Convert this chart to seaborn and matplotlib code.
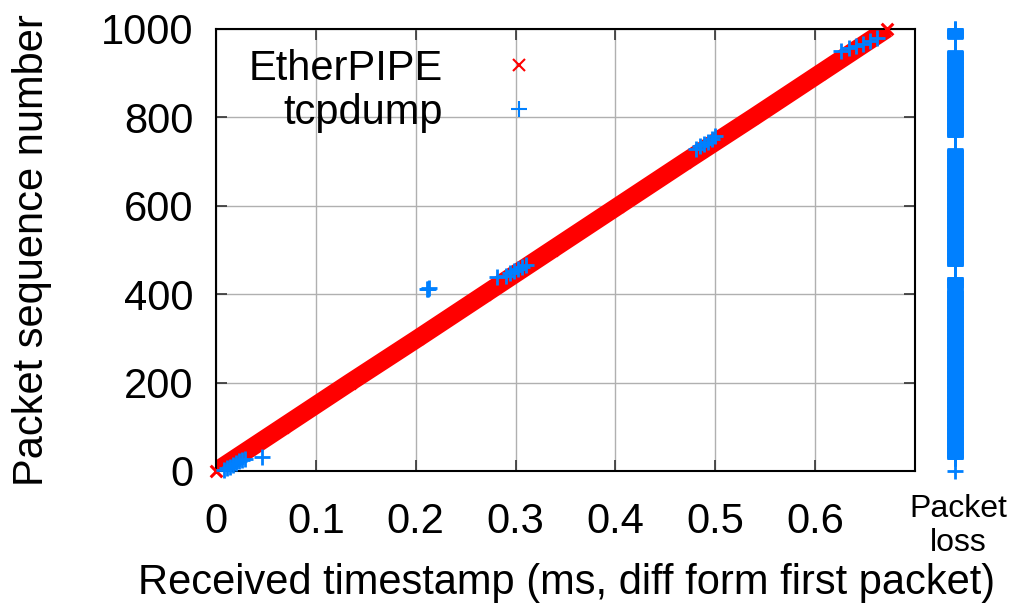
import numpy as np
import matplotlib
matplotlib.use("Agg")
import matplotlib.pyplot as plt
from matplotlib.lines import Line2D
import seaborn as sns

# EtherPIPE: received timestamp (ms) vs packet sequence number
ether_ts = [0.0, 0.067, 0.134, 0.202, 0.269, 0.336, 0.403, 0.470, 0.538, 0.605, 0.672]
ether_seq = [0, 100, 200, 300, 400, 500, 600, 700, 800, 900, 1000]

# tcpdump: the packets it did capture
tcp_ts = [0.008, 0.011, 0.014, 0.017, 0.020, 0.023, 0.026, 0.029, 0.046,
          0.211, 0.212, 0.213,
          0.281, 0.290, 0.294, 0.298, 0.302, 0.306, 0.310,
          0.481, 0.485, 0.489, 0.493, 0.497, 0.500,
          0.626, 0.634, 0.641, 0.648, 0.655, 0.662]
tcp_seq = [2, 6, 10, 14, 18, 22, 26, 28, 32,
           411, 412, 413,
           438, 442, 447, 452, 457, 461, 465,
           729, 735, 740, 745, 751, 757,
           951, 957, 962, 967, 973, 979]

# packets missed by tcpdump, as (first, last) sequence ranges
lost_first = [0, 29, 414, 466, 758, 980]
lost_last = [0, 410, 437, 728, 950, 1000]

red = "#ff0000"
blue = "#0080ff"

sns.set_style("ticks")
plt.rcParams["font.family"] = ["Liberation Sans", "DejaVu Sans"]
plt.rcParams["font.size"] = 30
plt.rcParams["text.color"] = "black"
plt.rcParams["axes.labelcolor"] = "black"
plt.rcParams["xtick.color"] = "black"
plt.rcParams["ytick.color"] = "black"

fig = plt.figure(figsize=(10.14, 6.13), dpi=100)
ax = fig.add_axes([216 / 1014, 1 - 471 / 613, 699 / 1014, 442 / 613])

# red band: thick line through the EtherPIPE points plus x markers
sns.lineplot(x=ether_ts, y=ether_seq, ax=ax, color=red, linewidth=13,
             solid_capstyle="butt", sort=False, legend=False)
sns.scatterplot(x=ether_ts, y=ether_seq, ax=ax, marker="x", color=red,
                s=70, linewidth=2.2, clip_on=False, zorder=4)

sns.scatterplot(x=tcp_ts, y=tcp_seq, ax=ax, marker="+", color=blue,
                s=140, linewidth=2, clip_on=False, zorder=5)

ax.set_xlim(0, 0.7)
ax.set_ylim(0, 1000)
ax.set_xticks([0, 0.1, 0.2, 0.3, 0.4, 0.5, 0.6])
ax.set_xticklabels(["0", "0.1", "0.2", "0.3", "0.4", "0.5", "0.6"])
ax.set_yticks([0, 200, 400, 600, 800, 1000])
ax.grid(True, color="#b0b0b0", linewidth=1)
ax.set_axisbelow(True)
ax.tick_params(direction="in", length=8, width=1.2, top=True, right=True,
               labelsize=30, color="#333333", labelcolor="black")
ax.tick_params(axis="x", pad=22)
ax.tick_params(axis="y", pad=16)
for s in ax.spines.values():
    s.set_linewidth(1.5)
    s.set_color("black")

ax.set_xlabel("Received timestamp (ms, diff form first packet)", fontsize=30)
ax.xaxis.label.set_va("center")
ax.xaxis.set_label_coords(0.502, -0.253)
ax.set_ylabel("Packet sequence number", fontsize=30)
ax.yaxis.label.set_va("center")
ax.yaxis.set_label_coords(-0.263, 0.5)

handles = [Line2D([], [], linestyle="none", marker="x", color=red, markersize=8, mew=1.5),
           Line2D([], [], linestyle="none", marker="+", color=blue, markersize=12, mew=1.5)]
ax.legend(handles, ["EtherPIPE", "tcpdump"], loc="upper right",
          bbox_to_anchor=(0.462, 0.955), markerfirst=False, frameon=False,
          fontsize=30, handlelength=0.95, handletextpad=1.35, labelspacing=0.1,
          borderpad=0, borderaxespad=0)

# packet loss column
lost = np.concatenate([np.arange(a, b + 1) for a, b in zip(lost_first, lost_last)])
lax = fig.add_axes([935 / 1014, 1 - 471 / 613, 40 / 1014, 442 / 613])
sns.scatterplot(x=np.zeros(len(lost)), y=lost, ax=lax, marker="+", color=blue,
                s=135, linewidth=2, clip_on=False)
lax.set_xlim(-1, 1)
lax.set_ylim(0, 1000)
lax.axis("off")
fig.text(958 / 1014, 1 - 526 / 613, "Packet\nloss", ha="center", va="center",
         fontsize=23, linespacing=1.2)

fig.savefig("out.png", dpi=100)
